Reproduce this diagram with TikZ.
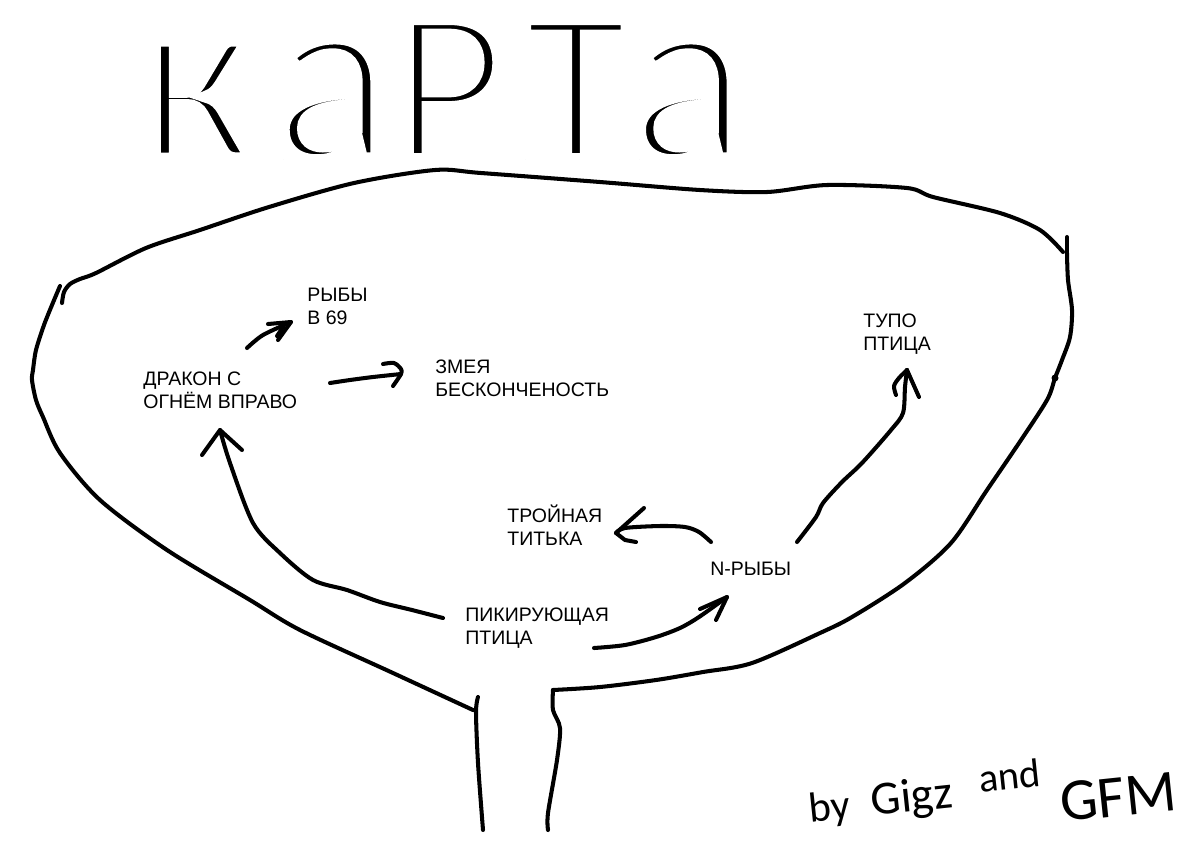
\documentclass[tikz,border=0pt]{standalone}
\usepackage{fontspec}
\setmainfont{Liberation Sans}
\newfontfamily\titlefont{Carlito}[FakeBold=5.3]
\newfontfamily\sigfont{Carlito}
\newcommand{\mylines}[1]{\begin{tabular}[t]{@{}l@{}}#1\end{tabular}}
\newcommand{\whitestroke}{\special{pdf:literal direct 1 1 1 RG}}
\newcommand{\blackstroke}{\special{pdf:literal direct 0 0 0 RG}}
\begin{document}
\begin{tikzpicture}[x=0.02cm,y=-0.02cm,
  ink/.style={line width=2.3pt, line cap=round, line join=round},
  lbl/.style={anchor=base west, inner sep=0pt, font=\fontsize{11.1}{13.6}\selectfont},
  sig/.style={anchor=base west, inner sep=0pt, rotate=6},
]
\useasboundingbox (0,0) rectangle (1200,840);
\fill[white] (0,0) rectangle (1200,840);

% outline of the map
\draw[ink] plot[smooth, tension=0.5] coordinates {(62,303) (64,292) (70,284) (80,279) (96,273) (146,248) (200,230) (269,207) (354,183) (435,170) (481,173) (600,182) (700,190) (767,192) (827,185) (907,188) (933,197) (1000,213) (1040,230) (1063,252)};
\draw[ink] (1067,237) -- (1067,253);
\draw[ink] plot[smooth, tension=0.5] coordinates {(1067,253) (1068,280) (1072,310) (1070,337) (1062,360) (1055,378) (1047,400) (1019,443) (987,490) (951,543) (905,583) (852,617) (820,633) (752,663) (703,672) (656,680) (600,687) (553,690)};
\fill (1055,378) circle (3.5);
\draw[ink] plot[smooth, tension=0.5] coordinates {(553,690) (553,710) (560,728) (557,760) (548,813) (548,830)};
\draw[ink] plot[smooth, tension=0.5] coordinates {(60,286) (52,305) (44,325) (36,350) (33,370) (32,380) (36,400) (43,417) (60,453) (100,500) (167,550) (250,600) (300,630) (393,673) (473,710)};
\draw[ink] plot[smooth, tension=0.5] coordinates {(478,697) (476,712) (478,763) (483,830)};

% labels
\node[lbl] (ryby) at (307,301) {\mylines{РЫБЫ\\В 69}};
\node[lbl] (drakon) at (143,385) {\mylines{ДРАКОН С\\ОГНЁМ ВПРАВО}};
\node[lbl] (zmeya) at (435,373) {\mylines{ЗМЕЯ\\БЕСКОНЧЕНОСТЬ}};
\node[lbl] (tupo) at (863,327) {\mylines{ТУПО\\ПТИЦА}};
\node[lbl] (troynaya) at (507,522) {\mylines{ТРОЙНАЯ\\ТИТЬКА}};
\node[lbl] (nryby) at (710,575) {N-РЫБЫ};
\node[lbl] (pikir) at (465,621) {\mylines{ПИКИРУЮЩАЯ\\ПТИЦА}};

% connector end points
\coordinate (a1s) at (247,348); \coordinate (a1t) at (291,322);
\coordinate (a2s) at (330,383); \coordinate (a2t) at (401,374);
\coordinate (a3s) at (443,618); \coordinate (a3t) at (220,430);
\coordinate (a4s) at (594,648); \coordinate (a4t) at (727,597);
\coordinate (a5s) at (711,542); \coordinate (a5t) at (616,533);
\coordinate (a6s) at (797,542); \coordinate (a6t) at (907,370);

% ДРАКОН -> РЫБЫ
\draw[ink] plot[smooth] coordinates {(a1s) (263,335) (a1t)};
\draw[ink] (268,324) -- (a1t) -- (278,340);
\draw[ink] (283,327) -- (277,336);
% ДРАКОН -> ЗМЕЯ
\draw[ink] plot[smooth] coordinates {(a2s) (350,380) (373,377) (a2t)};
\draw[ink] plot[smooth] coordinates {(383,364) (394,363) (401,369) (a2t) (393,386)};
% ПИКИРУЮЩАЯ -> ДРАКОН
\draw[ink] plot[smooth, tension=0.5] coordinates {(a3s) (412,610) (380,602) (347,590) (313,580) (280,553) (253,523) (230,463) (a3t)};
\draw[ink] (202,455) -- (a3t) -- (242,450);
% ПИКИРУЮЩАЯ -> N-РЫБЫ
\draw[ink] plot[smooth, tension=0.5] coordinates {(a4s) (625,645) (656,637) (680,628) (699,617) (a4t)};
\draw[ink] (700,609) -- (a4t) -- (716,620);
% N-РЫБЫ -> ТРОЙНАЯ ТИТЬКА
\draw[ink] plot[smooth, tension=0.5] coordinates {(a5s) (699,532) (685,527) (660,526) (625,528) (a5t)};
\draw[ink] (644,508) -- (a5t) -- (625,540) -- (636,542);
% N-РЫБЫ -> ТУПО ПТИЦА
\draw[ink] plot[smooth, tension=0.5] coordinates {(a6s) (816,517) (823,503) (842,482) (862,463) (891,430) (903,413) (905,387) (a6t)};
\draw[ink] plot[smooth] coordinates {(a6t) (899,378) (894,386) (896,395)};
\draw[ink] (a6t) -- (919,397);

% signature
\node[sig, font=\sigfont\fontsize{24}{24}\selectfont] (s1) at (810,823) {by};
\node[sig, font=\sigfont\fontsize{27}{27}\selectfont] (s2) at (872,816) {Gigz};
\node[sig, font=\sigfont\fontsize{23}{23}\selectfont] (s3) at (980,793) {and};
\node[sig, font=\sigfont\fontsize{34}{34}\selectfont] (s4) at (1062,822) {GFM};

% title (thin strokes)
\node[anchor=base west, inner sep=0pt, font=\titlefont\fontsize{142}{142}\selectfont\addfontfeature{LetterSpace=9}] (title) at (138,159) {\whitestroke ка{\fontsize{124}{124}\selectfont РТ}а\blackstroke};
\end{tikzpicture}
\end{document}
